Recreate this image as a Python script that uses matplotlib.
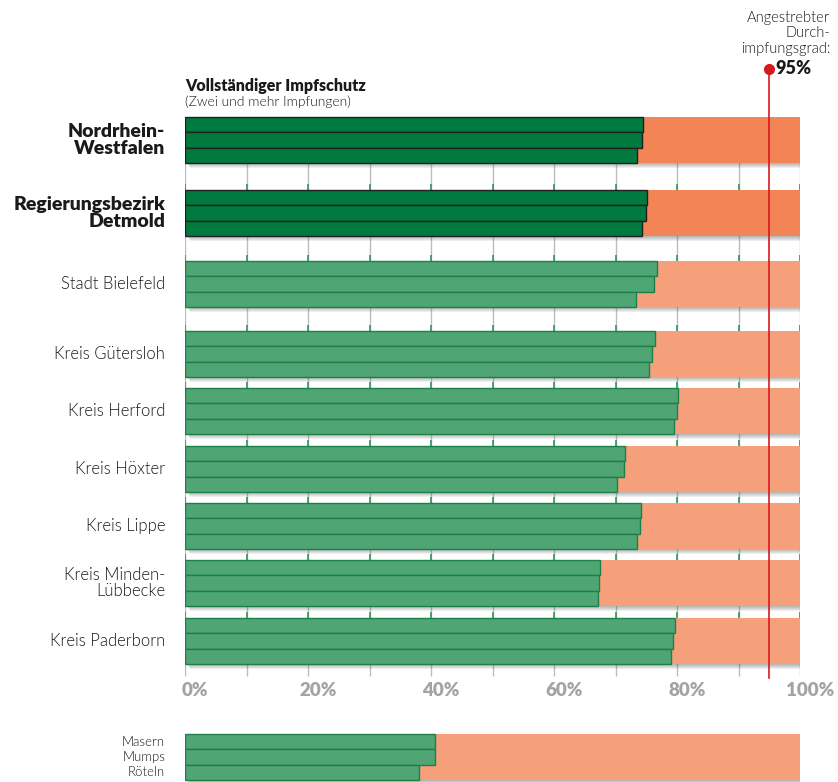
import matplotlib
matplotlib.use("Agg")
import matplotlib.pyplot as plt
from matplotlib.patches import Rectangle
from matplotlib.transforms import offset_copy

# Impfquoten (Masern, Mumps, Röteln) je Region in Prozent
regions = ["Nordrhein-\nWestfalen", "Regierungsbezirk\nDetmold", "Stadt Bielefeld",
           "Kreis Gütersloh", "Kreis Herford", "Kreis Höxter", "Kreis Lippe",
           "Kreis Minden-\nLübbecke", "Kreis Paderborn"]
masern = [74.5, 75.2, 76.7, 76.4, 80.2, 71.5, 74.1, 67.5, 79.6]
mumps = [74.3, 75.0, 76.3, 75.9, 80.0, 71.4, 74.0, 67.3, 79.3]
roeteln = [73.5, 74.3, 73.3, 75.4, 79.5, 70.2, 73.5, 67.1, 79.0]
ziel = 95

legend_labels = ["Masern", "Mumps", "Röteln"]
legend_values = [40.7, 40.7, 38.0]

tick_values = [0, 20, 40, 60, 80, 100]

# Layout in Pixeln (y-Achse = Bildzeile)
W, H = 838, 782
X0, X1 = 185, 800
first_top = 117
bar_h = 46 / 3
gaps = [27, 25, 24, 11, 12, 11, 11, 12]
legend_top = 734
n_highlight = 2

FONT = ["Lato", "DejaVu Sans"]
THIN = 300
dark_green, dark_edge = "#007a3e", "#231f20"
light_green, light_edge = "#4fa574", "#1d8048"
orange, salmon = "#f28455", "#f5a07a"
ink = "#1a1a1a"

fig = plt.figure(figsize=(W / 100, H / 100), dpi=100)
ax = fig.add_axes([X0 / W, 0, (X1 - X0) / W, 1])
ax.set_xlim(0, 100)
ax.set_ylim(H, 0)
ax.axis("off")

px = 100 / (X1 - X0)  # Prozent pro Pixel


def shadow(y, h):
    for k in range(1, 6):
        ax.add_patch(Rectangle((k * px, y + k), 100, h, color="#4a4a4a",
                               alpha=0.09, lw=0, zorder=1))


def group(y, values, fill, edge, rest):
    shadow(y, 3 * bar_h)
    ax.add_patch(Rectangle((0, y), 100, 3 * bar_h, facecolor=rest, lw=0, zorder=2))
    for i, v in enumerate(values):
        ax.barh(y + (i + 0.5) * bar_h, v, height=bar_h, left=0, color=fill,
                edgecolor=edge, lw=1.0, zorder=3)


tops = [first_top]
for g in gaps:
    tops.append(tops[-1] + 3 * bar_h + g)
bottom = tops[-1] + 3 * bar_h

# Hilfslinien alle 10 %
for v in range(0, 101, 10):
    ax.vlines(v, first_top, bottom + 12, color="#bdbdbd", lw=1, zorder=0)
    for t in tops[1:]:
        ax.vlines(v, t - 6, t, color="#2e9a5c", lw=1.2, zorder=0)

for i, name in enumerate(regions):
    vals = [masern[i], mumps[i], roeteln[i]]
    hl = i < n_highlight
    group(tops[i], vals, dark_green if hl else light_green,
          dark_edge if hl else light_edge, orange if hl else salmon)
    ax.text(-20 * px, tops[i] + 1.5 * bar_h, name, ha="right", va="center",
            fontsize=14 if hl else 12, fontweight="heavy" if hl else THIN,
            family=FONT, color=ink, linespacing=1.05)

# Überschrift
ax.text(0, 91, "Vollständiger Impfschutz", fontsize=11.5, fontweight="heavy",
        family=FONT, color=ink, va="baseline")
ax.text(0, 106, "(Zwei und mehr Impfungen)", fontsize=10, fontweight=THIN,
        family=FONT, color=ink, va="baseline")

# x-Achsenbeschriftung
lab_tr = offset_copy(ax.transData, fig=fig, x=10, y=0, units="dots")
for v in tick_values:
    ax.text(v, 690, f"{v}%", transform=lab_tr, ha="center", va="center",
            fontsize=13.5, fontweight="heavy", family=FONT, color="#a3a3a3")

# Zielmarke 95 %
ax.plot([ziel, ziel], [69, bottom + 14], color="#d7191f", lw=1.2, zorder=5,
        clip_on=False)
ax.plot(ziel, 69, "o", color="#d7191f", ms=7, zorder=6, clip_on=False)
ax.text(100 + 30 * px, 53, "Angestrebter\nDurch-\nimpfungsgrad:", ha="right",
        va="baseline", fontsize=10.5, fontweight=THIN, family=FONT,
        color=ink, linespacing=1.15)
ax.text(ziel + 6 * px, 69, f"{ziel}%", ha="left", va="center", fontsize=13,
        fontweight="heavy", family=FONT, color=ink)

# Legende
group(legend_top, legend_values, light_green, light_edge, salmon)
for i, lab in enumerate(legend_labels):
    ax.text(-20 * px, legend_top + (i + 0.5) * bar_h, lab, ha="right", va="center",
            fontsize=9.5, fontweight=THIN, family=FONT, color=ink)

fig.savefig("out.png", dpi=100)
